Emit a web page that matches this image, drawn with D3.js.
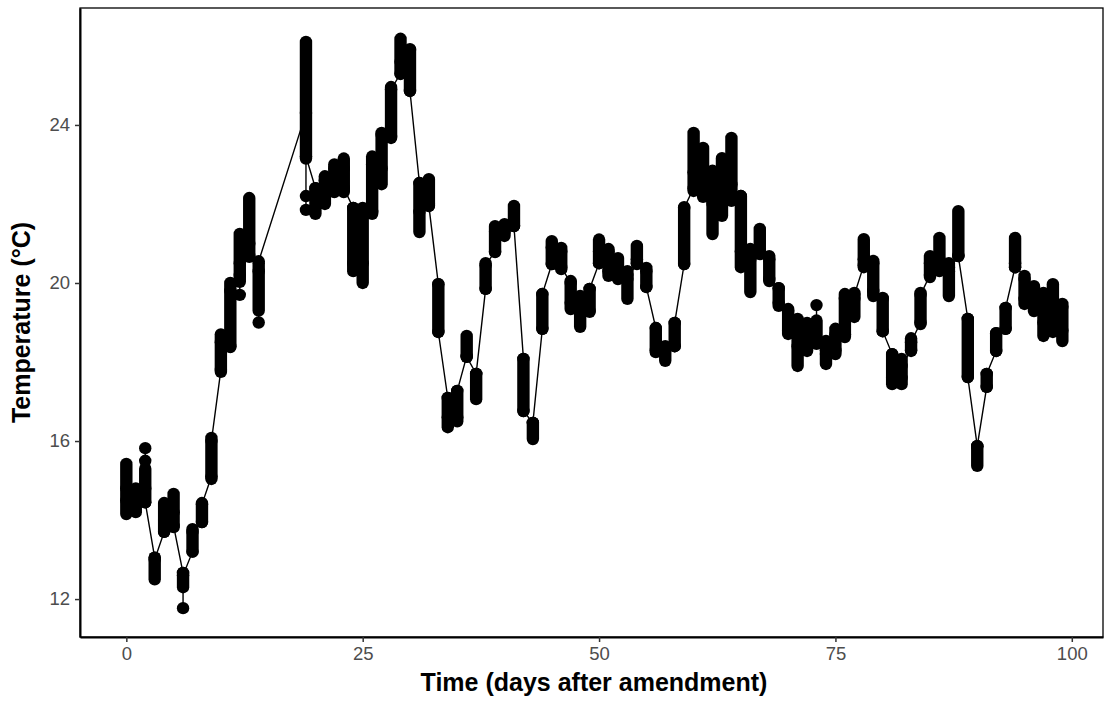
<!DOCTYPE html>
<html>
<head>
<meta charset="utf-8">
<script src="https://cdn.jsdelivr.net/npm/d3@7"></script>
<style>
  html, body { margin: 0; padding: 0; background: #ffffff; }
  svg { display: block; }
</style>
</head>
<body>
<svg id="chart" width="1113" height="709"></svg>
<script>
// ---- data (daily columns of temperature readings, °C) ----
const days = [0,1,2,3,4,5,6,7,8,9,10,11,12,13,14,
  19,20,21,22,23,24,25,26,27,28,29,30,31,32,33,34,35,36,37,38,39,40,41,42,43,44,45,46,47,48,49,
  50,51,52,53,54,55,56,57,58,59,60,61,62,63,64,65,66,67,68,69,70,71,72,73,74,75,76,77,78,79,
  80,81,82,83,84,85,86,87,88,89,90,91,92,93,94,95,96,97,98,99];
const dayLow = [14.15,14.2,14.45,12.5,13.7,13.82,12.3,13.2,13.95,15.04,17.75,18.38,20.03,20.66,19.3,
  23.15,21.75,22.0,22.3,22.3,20.3,20.0,21.75,22.5,23.67,25.29,24.86,21.29,21.95,18.76,16.35,16.5,18.13,17.06,19.85,20.78,21.19,21.44,16.76,16.05,18.84,20.48,20.35,19.34,18.89,19.27,
  20.5,20.18,20.1,19.6,20.48,19.9,18.25,18.03,18.4,20.48,22.33,22.18,21.24,21.7,22.08,20.4,19.77,20.73,20.05,19.42,18.71,17.9,18.28,18.46,17.95,18.2,18.63,19.14,20.4,19.67,
  18.78,17.44,17.44,18.28,18.96,20.15,20.3,19.67,20.68,17.62,15.37,17.37,18.28,18.84,20.4,19.47,19.29,18.66,18.76,18.53];
const dayHigh = [15.42,14.8,15.3,13.05,14.43,14.66,12.66,13.77,14.43,16.08,18.7,20.0,21.24,22.15,20.5,
  26.1,22.4,22.7,23.0,23.15,21.9,21.9,23.2,23.8,24.96,26.18,25.92,22.53,22.63,19.97,17.09,17.27,18.66,17.7,20.5,21.44,21.49,21.95,18.08,16.46,19.72,21.06,20.89,20.05,19.67,19.85,
  21.1,20.86,20.63,20.3,20.94,20.38,18.86,18.4,18.99,21.92,23.8,23.42,22.84,23.16,23.67,22.2,20.86,21.37,20.68,19.87,19.34,19.09,18.99,19.05,18.53,18.84,19.72,19.75,21.11,20.56,
  19.62,18.2,18.08,18.6,19.75,20.68,21.14,20.5,21.82,19.09,15.87,17.7,18.73,19.37,21.14,20.18,19.92,19.75,19.97,19.47];
const dayFirst = [14.8,14.5,14.8,13.05,13.7,14.2,12.66,13.2,13.95,15.1,17.8,18.4,20.2,20.7,20.3,
  24.3,22.4,22.1,22.5,22.9,21.9,20.5,21.8,22.9,23.7,25.3,25.9,22.53,22.0,19.97,17.09,16.6,18.15,17.7,19.85,20.8,21.3,21.45,18.08,16.46,18.84,20.48,20.8,20.0,19.4,19.3,
  20.5,20.8,20.3,20.2,20.5,20.3,18.86,18.3,18.4,20.48,22.4,22.8,22.5,22.0,22.5,22.2,20.8,20.8,20.6,19.87,19.3,18.9,18.4,18.6,18.3,18.3,18.7,19.6,20.45,20.5,
  19.6,18.2,17.6,18.3,19.0,20.2,20.5,20.4,20.7,19.09,15.87,17.37,18.28,18.84,20.4,20.1,19.6,19.5,19.0,19.4];
const dayLast = [14.5,14.6,14.45,13.0,14.0,13.85,12.6,13.7,14.4,16.0,18.5,19.8,20.5,21.0,20.55,
  23.2,22.2,22.6,22.9,22.4,20.5,21.8,23.0,23.75,24.9,25.6,24.86,21.8,21.95,18.76,16.6,17.27,18.13,17.7,20.45,21.3,21.45,21.44,16.76,16.46,19.72,20.9,20.4,19.5,19.3,19.85,
  20.8,20.3,20.2,20.1,20.6,19.9,18.3,18.35,18.99,21.9,22.8,22.5,22.0,22.5,22.2,20.8,20.6,20.8,20.1,19.5,18.8,18.4,18.6,18.5,18.2,18.7,19.6,19.7,20.6,19.8,
  18.78,17.6,17.9,18.5,19.7,20.5,20.6,20.3,20.68,17.62,15.87,17.7,18.73,19.37,20.5,19.6,19.5,19.0,19.4,18.8];
// isolated readings that stand apart from their day's column
const outlierDays = [2, 2, 6, 12, 14, 19, 19, 73];
const outlierVals = [15.5, 15.82, 11.77, 19.7, 19.0, 22.2, 21.85, 19.44];

const xTicks = [0, 25, 50, 75, 100];
const yTicks = [12, 16, 20, 24];
const xTitle = "Time (days after amendment)";
const yTitle = "Temperature (°C)";

// ---- layout ----
const panel = { left: 80, right: 1103, top: 8, bottom: 637 };
const R = 6.2;
const FONT = "Arial, 'Liberation Sans', sans-serif";

const x = d3.scaleLinear().domain([-4.9, 103.3]).range([panel.left, panel.right]);
const y = d3.scaleLinear().domain([11.04, 26.96]).range([panel.bottom, panel.top]);

const svg = d3.select("#chart");

// readings in time order per day: first, outliers, last
const pts = [];
days.forEach((d, i) => {
  pts.push({ d, v: dayFirst[i] });
  outlierDays.forEach((od, j) => { if (od === d) pts.push({ d, v: outlierVals[j] }); });
  pts.push({ d, v: dayLast[i] });
});

const g = svg.append("g");

// connecting line
g.append("path")
  .datum(pts)
  .attr("fill", "none")
  .attr("stroke", "#000")
  .attr("stroke-width", 1.4)
  .attr("d", d3.line().x(p => x(p.d)).y(p => y(p.v)));

// column of the day's readings (low..high)
g.selectAll("rect.col")
  .data(days.map((d, i) => ({ d, lo: dayLow[i], hi: dayHigh[i] })))
  .join("rect")
  .attr("class", "col")
  .attr("x", c => x(c.d) - R)
  .attr("width", 2 * R)
  .attr("y", c => y(c.hi) - R)
  .attr("height", c => y(c.lo) - y(c.hi) + 2 * R)
  .attr("rx", R).attr("ry", R)
  .attr("fill", "#000");

// individual reading points
g.selectAll("circle.pt")
  .data(pts)
  .join("circle")
  .attr("class", "pt")
  .attr("cx", p => x(p.d))
  .attr("cy", p => y(p.v))
  .attr("r", R)
  .attr("fill", "#000");

// panel border
svg.append("rect")
  .attr("x", panel.left).attr("y", panel.top)
  .attr("width", panel.right - panel.left)
  .attr("height", panel.bottom - panel.top)
  .attr("fill", "none").attr("stroke", "#000").attr("stroke-width", 1.3);

// axes
const xAxis = svg.append("g")
  .attr("transform", `translate(0,${panel.bottom})`)
  .call(d3.axisBottom(x).tickValues(xTicks).tickSizeInner(5).tickSizeOuter(0).tickPadding(5).tickFormat(d3.format("d")));
const yAxis = svg.append("g")
  .attr("transform", `translate(${panel.left},0)`)
  .call(d3.axisLeft(y).tickValues(yTicks).tickSizeInner(5).tickSizeOuter(0).tickPadding(5).tickFormat(d3.format("d")));

[xAxis, yAxis].forEach(a => {
  a.select(".domain").attr("stroke", "#000").attr("stroke-width", 2);
  a.selectAll(".tick line").attr("stroke", "#333").attr("stroke-width", 1.5);
  a.selectAll(".tick text")
    .attr("fill", "#4d4d4d")
    .style("font-family", FONT)
    .style("font-size", "18.5px");
});

// axis titles
svg.append("text")
  .attr("x", 594)
  .attr("y", 691)
  .attr("text-anchor", "middle")
  .style("font-family", FONT)
  .style("font-size", "25px")
  .style("font-weight", "bold")
  .text(xTitle);

svg.append("text")
  .attr("transform", `translate(30,${(panel.top + panel.bottom) / 2}) rotate(-90)`)
  .attr("text-anchor", "middle")
  .style("font-family", FONT)
  .style("font-size", "25px")
  .style("font-weight", "bold")
  .text(yTitle);
</script>
</body>
</html>
